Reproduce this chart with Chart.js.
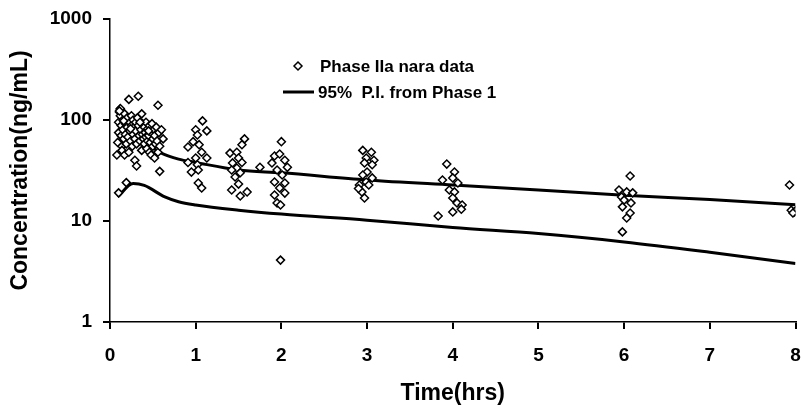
<!DOCTYPE html>
<html>
<head>
<meta charset="utf-8">
<script src="https://cdn.jsdelivr.net/npm/chart.js@4.4.0/dist/chart.umd.min.js"></script>
<style>
  html, body { margin: 0; padding: 0; background: #fff; }
  #wrap { width: 801px; height: 409px; }
</style>
</head>
<body>
<div id="wrap"><canvas id="pkChart"></canvas></div>
<script>
// ===== DATA =====
// observed Phase IIa concentrations (time in hrs, conc in ng/mL)
const obsTime = [
  0.08, 0.09, 0.10, 0.10, 0.11, 0.12, 0.12, 0.13, 0.13, 0.14, 0.14, 0.15, 0.15, 0.16, 0.17, 0.17,
  0.18, 0.18, 0.19, 0.20, 0.20, 0.21, 0.22, 0.22, 0.23, 0.23, 0.24, 0.25, 0.25, 0.26, 0.27, 0.27,
  0.28, 0.29, 0.29, 0.30, 0.30, 0.31, 0.31, 0.32, 0.33, 0.33, 0.34, 0.35, 0.36, 0.37, 0.37, 0.38,
  0.38, 0.39, 0.40, 0.40, 0.41, 0.42, 0.42, 0.43, 0.44, 0.44, 0.45, 0.46, 0.46, 0.47, 0.48, 0.48,
  0.49, 0.50, 0.50, 0.51, 0.52, 0.52, 0.53, 0.54, 0.55, 0.56, 0.56, 0.57, 0.58, 0.60, 0.58, 0.10,
  0.19, 0.12, 0.11, 0.16, 0.62, 0.45, 0.35, 0.24,
  1.08, 1.13, 1.00, 0.97, 0.91, 1.02, 1.04, 1.07, 1.13, 1.00, 0.91, 1.02, 0.95, 1.03, 1.03, 1.07,
  1.57, 1.54, 1.40, 1.48, 1.50, 1.54, 1.43, 1.48, 1.42, 1.52, 1.46, 1.50, 1.42, 1.52, 1.60, 1.75,
  2.00, 1.92, 1.98, 2.04, 1.89, 2.07, 1.95, 2.01, 1.92, 2.04, 1.98, 2.04, 1.92, 1.95, 1.99, 1.99,
  2.95, 3.05, 2.99, 3.08, 2.97, 3.06, 3.00, 2.95, 3.06, 2.99, 2.91, 3.02, 2.94, 2.97, 2.90,
  3.93, 4.02, 3.88, 4.00, 4.06, 3.96, 4.02, 4.00, 4.05, 4.11, 4.00, 4.10, 3.83,
  6.07, 5.94, 6.03, 6.10, 5.97, 6.00, 6.08, 5.98, 6.07, 6.03, 5.98,
  7.93, 7.95, 7.99, 8.02, 7.97
];
const obsConc = [
  45, 60, 75, 95, 120, 128, 110, 88, 70, 55, 50, 100, 80, 65, 45, 115,
  92, 72, 58, 85, 105, 68, 48, 160, 95, 78, 62, 88, 110, 55, 72, 100,
  85, 40, 65, 95, 78, 35, 58, 105, 172, 88, 70, 62, 80, 115, 50, 92,
  72, 65, 85, 58, 75, 68, 95, 52, 82, 62, 70, 48, 88, 60, 75, 45,
  92, 65, 55, 80, 42, 70, 58, 85, 62, 140, 48, 75, 55, 80, 31, 19,
  24, 130, 123, 98, 65, 78, 95, 82,
  98, 78, 80, 61, 54, 71, 57, 48, 42, 42, 38, 36, 30.5, 32, 23.8, 21.2,
  65, 57, 47, 48, 42, 38, 37.6, 33.5, 32, 30, 27.3, 23.2, 20.3, 17.7, 19.4, 34,
  61, 44, 46, 40, 37.6, 34, 32, 28.5, 24.3, 23.8, 21.2, 18.9, 18.1, 15.1, 14.4, 4.1,
  50, 48, 42, 40, 37.6, 36, 30.5, 28.5, 26.7, 24.3, 22.7, 22.7, 19.4, 16.9, 21,
  36.6, 30.5, 25.5, 26.7, 23.8, 20.3, 19.4, 16.9, 15.1, 14.4, 12.3, 13.1, 11.2,
  27.9, 20.3, 19.4, 19, 17.3, 16.1, 15.1, 13.8, 12, 10.7, 7.8,
  22.7, 12.8, 12.3, 13.1, 12
];
// 95% prediction interval from Phase 1
const upperTime = [0.10, 0.25, 0.40, 0.60, 0.80, 1, 1.5, 2, 3, 4, 5, 6, 7, 8];
const upperConc = [55, 70, 60, 47, 41, 38, 32, 30, 25.5, 22.7, 20.3, 18, 16.3, 14.5];
const lowerTime = [0.09, 0.27, 0.40, 0.64, 0.80, 1, 1.5, 2, 3, 4, 5, 6, 7, 8];
const lowerConc = [17.3, 23.5, 22.5, 17.3, 15.5, 14.4, 12.8, 11.7, 10.2, 8.6, 7.5, 6.2, 4.9, 3.8];
const yTicks = [1, 10, 100, 1000];
const xTicks = [0, 1, 2, 3, 4, 5, 6, 7, 8];

const toXY = (xs, ys) => xs.map((x, i) => ({ x: x, y: ys[i] }));
const FONT = '"Liberation Sans", Arial, sans-serif';

// ===== LEGEND (drawn by hand, two rows) =====
const legendPlugin = {
  id: 'handLegend',
  afterDraw(chart) {
    const ctx = chart.ctx;
    ctx.save();
    ctx.font = 'bold 17px ' + FONT;
    ctx.textBaseline = 'middle';
    // diamond
    ctx.beginPath();
    ctx.moveTo(298, 62); ctx.lineTo(302, 66); ctx.lineTo(298, 70); ctx.lineTo(294, 66); ctx.closePath();
    ctx.fillStyle = '#fff'; ctx.fill();
    ctx.strokeStyle = '#000'; ctx.lineWidth = 1.5; ctx.stroke();
    ctx.fillStyle = '#000';
    ctx.fillText('Phase IIa nara data', 320, 67);
    // line
    ctx.beginPath();
    ctx.moveTo(283, 92); ctx.lineTo(314, 92);
    ctx.lineWidth = 3; ctx.stroke();
    ctx.fillText('95%  P.I. from Phase 1', 318, 93);
    ctx.restore();
  }
};

// ===== CHART =====
const ctx = document.getElementById('pkChart');
new Chart(ctx, {
  type: 'scatter',
  data: {
    datasets: [
      {
        label: 'Phase IIa nara data',
        data: toXY(obsTime, obsConc),
        pointStyle: 'rectRot',
        pointRadius: 4,
        backgroundColor: '#fff',
        borderColor: '#000',
        borderWidth: 1.5
      },
      {
        label: '95% P.I. from Phase 1',
        data: toXY(upperTime, upperConc),
        showLine: true,
        pointRadius: 0,
        borderColor: '#000',
        borderWidth: 3,
        cubicInterpolationMode: 'monotone'
      },
      {
        label: '95% P.I. lower',
        data: toXY(lowerTime, lowerConc),
        showLine: true,
        pointRadius: 0,
        borderColor: '#000',
        borderWidth: 3,
        cubicInterpolationMode: 'monotone'
      }
    ]
  },
  options: {
    responsive: true,
    maintainAspectRatio: false,
    animation: false,
    layout: { padding: { left: 0, right: 5, top: 19, bottom: 0 } },
    plugins: { legend: { display: false }, tooltip: { enabled: false } },
    scales: {
      x: {
        type: 'linear',
        min: 0,
        max: 8,
        afterBuildTicks: (s) => { s.ticks = xTicks.map(v => ({ value: v })); },
        afterFit: (s) => { s.height = 87; s.paddingLeft = 0; s.paddingRight = 0; },
        grid: { drawOnChartArea: false, drawTicks: true, tickLength: 7, color: '#000', lineWidth: 2 },
        border: { color: '#000', width: 1.5 },
        ticks: { color: '#000', padding: 15, font: { family: FONT, size: 19, weight: 'bold' } },
        title: {
          display: true,
          text: 'Time(hrs)',
          color: '#000',
          padding: { top: 10, bottom: 2 },
          font: { family: FONT, size: 23, weight: 'bold' }
        }
      },
      y: {
        type: 'logarithmic',
        min: 1,
        max: 1000,
        afterBuildTicks: (s) => { s.ticks = yTicks.map(v => ({ value: v })); },
        afterFit: (s) => { s.width = 110; s.paddingTop = 0; s.paddingBottom = 0; },
        grid: { drawOnChartArea: false, drawTicks: true, tickLength: 7, color: '#000', lineWidth: 2 },
        border: { color: '#000', width: 1.5 },
        ticks: {
          color: '#000',
          padding: 11,
          callback: (v) => String(v),
          font: { family: FONT, size: 19, weight: 'bold' }
        },
        title: {
          display: true,
          text: 'Concentration(ng/mL)',
          color: '#000',
          padding: { top: 7, bottom: 0 },
          font: { family: FONT, size: 23, weight: 'bold' }
        }
      }
    }
  },
  plugins: [legendPlugin]
});
</script>
</body>
</html>
